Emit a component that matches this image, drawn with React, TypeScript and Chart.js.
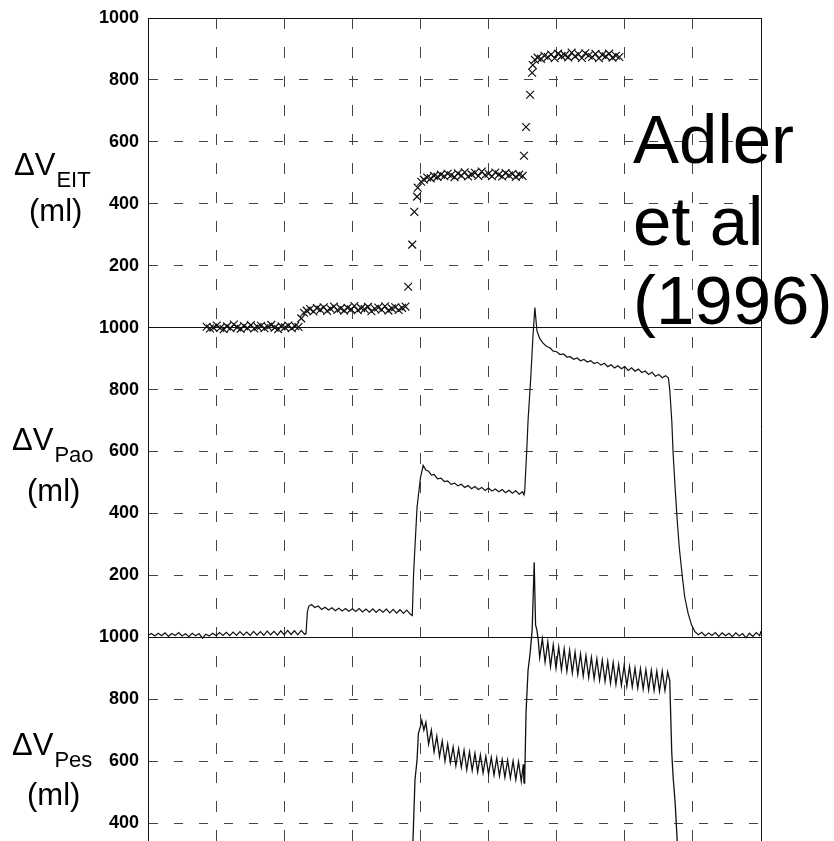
import React, { useEffect, useRef } from "react";
import { Chart, registerables } from "chart.js";

Chart.register(...registerables);

// ---- axis setup (continuous axis: three stacked 0-1000 ml panels) ----
const xGridValues = [0, 1, 2, 3, 4, 5, 6, 7, 8, 9];
const yMin = 342;
const yMax = 3000;
const yTickValues = [400, 600, 800, 1000, 1200, 1400, 1600, 1800, 2000, 2200, 2400, 2600, 2800, 3000];
const yTickLabels = ["400", "600", "800", "1000", "200", "400", "600", "800", "1000", "200", "400", "600", "800", "1000"];
const panelBoundaries = [1000, 2000, 3000];

// panel offsets on the continuous axis
const offsetEIT = 2000;
const offsetPao = 1000;
const offsetPes = 0;

const panelSubscripts = ["EIT", "Pao", "Pes"];
const citationLines = ["Adler", "et al", "(1996)"];

// ---- ΔV EIT (ml) : markers ----
const eitX = [
  0.86, 0.91, 0.96, 1.01, 1.06, 1.11, 1.16, 1.21, 1.26, 1.31, 1.36, 1.41, 1.46, 1.51, 1.56, 1.61, 1.66, 1.71, 1.76, 1.81,
  1.86, 1.91, 1.96, 2.01, 2.06, 2.11, 2.16, 2.21,
  2.25, 2.29,
  2.33, 2.38, 2.43, 2.48, 2.53, 2.58, 2.63, 2.68, 2.73, 2.78, 2.83, 2.88, 2.93, 2.98, 3.03, 3.08, 3.13, 3.18, 3.23, 3.28,
  3.33, 3.38, 3.43, 3.48, 3.53, 3.58, 3.63, 3.68, 3.73, 3.78,
  3.82, 3.88, 3.91, 3.95, 3.96, 4.01,
  4.05, 4.10, 4.15, 4.20, 4.25, 4.30, 4.35, 4.40, 4.45, 4.50, 4.55, 4.60, 4.65, 4.70, 4.75, 4.80, 4.85, 4.90, 4.95, 5.00,
  5.05, 5.10, 5.15, 5.20, 5.25, 5.30, 5.35, 5.40, 5.45, 5.50,
  5.52, 5.55, 5.61, 5.64, 5.65, 5.68,
  5.72, 5.77, 5.82, 5.87, 5.92, 5.97, 6.02, 6.07, 6.12, 6.17, 6.22, 6.27, 6.32, 6.37, 6.42, 6.47, 6.52, 6.57, 6.62, 6.67,
  6.72, 6.77, 6.82, 6.87, 6.92,
];
const eitY = [
  3, -3, 0, 7, -1, -5, 4, -2, 10, 1, -4, 5, -1, 8, -3, 2, 6, -2, 3, 9,
  0, -5, 4, 1, 7, -2, 5, 2,
  30, 48,
  55, 60, 52, 63, 58, 66, 54, 61, 68, 57, 62, 55, 64, 59, 70, 56, 63, 60, 67, 53,
  61, 65, 58, 69, 55, 62, 66, 57, 64, 68,
  132, 268, 374, 423, 452, 471,
  478, 485, 482, 490, 487, 494, 489, 497, 492, 486, 498, 491, 502, 488, 495, 500, 490, 504, 493, 497,
  489, 501, 494, 488, 499, 492, 496, 487, 494, 490,
  555, 648, 752, 823, 848, 865,
  872, 868, 878, 874, 882, 870, 885, 877, 880, 873, 888, 876, 883, 871, 886, 879, 874, 884, 870, 881,
  876, 885, 872, 878, 874,
];

// ---- ΔV Pao (ml) : trace [time, volume] ----
const paoTrace: [number, number][] = [
  [0, 6], [0.05, 12], [0.1, 4], [0.15, 13], [0.2, 5], [0.25, 14], [0.3, 3], [0.35, 12], [0.4, 6], [0.45, 15],
  [0.5, 4], [0.55, 11], [0.6, 2], [0.65, 13], [0.7, 5], [0.75, 12], [0.8, -3], [0.85, 10], [0.9, 4], [0.95, 13],
  [1, 5], [1.05, 15], [1.1, 6], [1.15, 16], [1.2, 5], [1.25, 17], [1.3, 6], [1.35, 18], [1.4, 7], [1.45, 17],
  [1.5, 6], [1.55, 19], [1.6, 7], [1.65, 18], [1.7, 6], [1.75, 20], [1.8, 8], [1.85, 19], [1.9, 7], [1.95, 21],
  [2, 8], [2.05, 22], [2.1, 9], [2.15, 21], [2.2, 8], [2.25, 22], [2.3, 9],
  [2.32, 12], [2.34, 82], [2.36, 100], [2.4, 106],
  [2.45, 96], [2.5, 101], [2.55, 90], [2.6, 97], [2.65, 88], [2.7, 95], [2.75, 86], [2.8, 94], [2.85, 85], [2.9, 93],
  [2.95, 84], [3, 92], [3.05, 83], [3.1, 93], [3.15, 82], [3.2, 91], [3.25, 81], [3.3, 92], [3.35, 80], [3.4, 90],
  [3.45, 81], [3.5, 91], [3.55, 79], [3.6, 90], [3.65, 78], [3.7, 89], [3.75, 77], [3.8, 88], [3.85, 75],
  [3.88, 70], [3.9, 210], [3.95, 420], [4.0, 515], [4.04, 555],
  [4.08, 540], [4.12, 536], [4.16, 524], [4.2, 526], [4.25, 512], [4.3, 514], [4.35, 503], [4.4, 505], [4.45, 494], [4.5, 498],
  [4.55, 489], [4.6, 494], [4.65, 484], [4.7, 490], [4.75, 480], [4.8, 487], [4.85, 477], [4.9, 484], [4.95, 474], [5, 482],
  [5.05, 472], [5.1, 479], [5.15, 470], [5.2, 477], [5.25, 467], [5.3, 475], [5.35, 465], [5.4, 473], [5.45, 462], [5.5, 470],
  [5.52, 460],
  [5.53, 470], [5.56, 600], [5.58, 700], [5.62, 840], [5.65, 965], [5.68, 1065],
  [5.71, 990], [5.75, 965], [5.8, 950], [5.85, 940], [5.9, 935], [5.95, 924], [6, 922], [6.05, 913], [6.1, 915], [6.15, 905],
  [6.2, 906], [6.25, 898], [6.3, 902], [6.35, 893], [6.4, 897], [6.45, 889], [6.5, 893], [6.55, 884], [6.6, 888], [6.65, 879],
  [6.7, 885], [6.75, 874], [6.8, 880], [6.85, 870], [6.9, 877], [6.95, 867], [7, 874], [7.05, 862], [7.1, 870], [7.15, 859],
  [7.2, 866], [7.25, 855], [7.3, 860], [7.35, 849], [7.4, 856], [7.45, 843], [7.5, 849], [7.55, 838], [7.6, 845], [7.64, 838],
  [7.66, 800], [7.69, 700], [7.71, 593], [7.74, 480], [7.77, 377], [7.8, 290], [7.84, 206], [7.88, 130], [7.93, 77], [7.98, 40],
  [8.03, 18],
  [8.08, 8], [8.13, 16], [8.18, 4], [8.23, 14], [8.28, 6], [8.33, 15], [8.38, 3], [8.43, 14], [8.48, 5], [8.53, 13],
  [8.58, 2], [8.63, 14], [8.68, 4], [8.73, 12], [8.78, -2], [8.83, 13], [8.88, 3], [8.93, 15], [8.98, 5], [9, 20],
];

// ---- ΔV Pes (ml) : trace [time, volume] ----
const pesTrace: [number, number][] = [
  [3.86, 250], [3.89, 342], [3.92, 540], [3.95, 603], [3.97, 690], [4.0, 712], [4.02, 732],
  [4.05, 700], [4.08, 725], [4.12, 655], [4.16, 700], [4.2, 630], [4.24, 680], [4.28, 615], [4.32, 665], [4.36, 600],
  [4.4, 655], [4.44, 595], [4.48, 645], [4.52, 585], [4.56, 640], [4.6, 580], [4.64, 635], [4.68, 572], [4.72, 630],
  [4.76, 570], [4.8, 625], [4.84, 565], [4.88, 620], [4.92, 562], [4.96, 615], [5, 558], [5.04, 612], [5.08, 555],
  [5.12, 610], [5.16, 552], [5.2, 605], [5.24, 548], [5.28, 603], [5.32, 545], [5.36, 600], [5.4, 540], [5.44, 598],
  [5.48, 535], [5.51, 590], [5.52, 530],
  [5.53, 529], [5.55, 755], [5.58, 894], [5.61, 948], [5.64, 1023], [5.67, 1242], [5.69, 1040], [5.71, 1023],
  [5.73, 990], [5.75, 935],
  [5.79, 995], [5.83, 920], [5.87, 985], [5.91, 905], [5.95, 975], [5.99, 900], [6.03, 968], [6.07, 895], [6.11, 962],
  [6.15, 890], [6.19, 958], [6.23, 885], [6.27, 952], [6.31, 880], [6.35, 946], [6.39, 875], [6.43, 940], [6.47, 870],
  [6.51, 935], [6.55, 866], [6.59, 930], [6.63, 862], [6.67, 926], [6.71, 858], [6.75, 922], [6.79, 852], [6.83, 918],
  [6.87, 848], [6.91, 912], [6.95, 845], [6.99, 908], [7.03, 842], [7.07, 905], [7.11, 840], [7.15, 900], [7.19, 836],
  [7.23, 898], [7.27, 833], [7.31, 895], [7.35, 830], [7.39, 893], [7.43, 828], [7.47, 890], [7.51, 826], [7.55, 890],
  [7.59, 828], [7.63, 888],
  [7.66, 860], [7.69, 626], [7.71, 548], [7.74, 464], [7.77, 342], [7.8, 250],
];

const FONT = "'Liberation Sans', Arial, Helvetica, sans-serif";

const isBoundary = (v: number) => panelBoundaries.includes(v);

const annotationPlugin = {
  id: "panelAnnotations",
  afterDraw(chart: any) {
    const ctx: CanvasRenderingContext2D = chart.ctx;
    ctx.save();
    ctx.fillStyle = "#000";
    ctx.textAlign = "left";
    ctx.textBaseline = "alphabetic";
    // axis titles for each panel: ΔV_sub (ml)
    const titlePos = [
      { dx: 14, dy: 175, subDy: 187, mx: 29, my: 221 },
      { dx: 12, dy: 450, subDy: 462, mx: 27, my: 501 },
      { dx: 12, dy: 755, subDy: 767, mx: 27, my: 805 },
    ];
    panelSubscripts.forEach((sub, i) => {
      const p = titlePos[i];
      ctx.font = `31px ${FONT}`;
      ctx.fillText("ΔV", p.dx, p.dy);
      const w = ctx.measureText("ΔV").width;
      ctx.fillText("(ml)", p.mx, p.my);
      ctx.font = `22px ${FONT}`;
      ctx.fillText(sub, p.dx + w + 1, p.subDy);
    });
    // citation
    ctx.font = `69px ${FONT}`;
    const baselines = [163, 245, 324];
    citationLines.forEach((line, i) => ctx.fillText(line, 633, baselines[i]));
    ctx.restore();
  },
};

export default function App() {
  const canvasRef = useRef<HTMLCanvasElement>(null);

  useEffect(() => {
    if (!canvasRef.current) return;
    const eitData = eitX.map((x, i) => ({ x, y: eitY[i] + offsetEIT }));
    const paoData = paoTrace.map(([x, y]) => ({ x, y: y + offsetPao }));
    const pesData = pesTrace.map(([x, y]) => ({ x, y: y + offsetPes }));

    const chart = new Chart(canvasRef.current, {
      type: "scatter",
      data: {
        datasets: [
          {
            label: "ΔV EIT",
            data: eitData,
            showLine: false,
            pointStyle: "crossRot",
            pointRadius: 5.5,
            pointBorderWidth: 1.2,
            borderColor: "#111",
            backgroundColor: "#111",
          },
          {
            label: "ΔV Pao",
            data: paoData,
            showLine: true,
            pointRadius: 0,
            borderWidth: 1.2,
            borderColor: "#111",
            tension: 0,
          },
          {
            label: "ΔV Pes",
            data: pesData,
            showLine: true,
            pointRadius: 0,
            borderWidth: 1.3,
            borderColor: "#111",
            tension: 0,
          },
        ],
      },
      options: {
        responsive: false,
        animation: false,
        devicePixelRatio: 1,
        layout: { autoPadding: false, padding: { left: 0, top: 18, right: 73, bottom: 0 } },
        plugins: { legend: { display: false }, tooltip: { enabled: false }, title: { display: false } },
        scales: {
          x: {
            type: "linear",
            min: 0,
            max: 9,
            afterBuildTicks: (s: any) => {
              s.ticks = xGridValues.map((v) => ({ value: v }));
            },
            afterFit: (s: any) => {
              s.height = 0;
              s.paddingLeft = 0;
              s.paddingRight = 0;
            },
            ticks: { display: false, autoSkip: false },
            grid: {
              drawTicks: false,
              lineWidth: 1,
              color: (c: any) => (c.tick && (c.tick.value === 0 || c.tick.value === 9) ? "#111" : "#444"),
            },
            border: {
              display: false,
              dash: (c: any) => (c.tick && (c.tick.value === 0 || c.tick.value === 9) ? [] : [11, 18]),
            },
          },
          y: {
            type: "linear",
            min: yMin,
            max: yMax,
            afterBuildTicks: (s: any) => {
              s.ticks = yTickValues.map((v) => ({ value: v }));
            },
            afterFit: (s: any) => {
              s.width = 148;
              s.paddingTop = 0;
              s.paddingBottom = 0;
            },
            ticks: {
              autoSkip: false,
              padding: 9,
              color: "#000",
              font: { family: FONT, size: 18, weight: "bold" },
              callback: (_v: any, i: number) => yTickLabels[i],
            },
            grid: {
              drawTicks: false,
              lineWidth: 1,
              color: (c: any) => (c.tick && isBoundary(c.tick.value) ? "#111" : "#444"),
            },
            border: {
              display: true,
              color: "#111",
              width: 1,
              dash: (c: any) => (c.tick && isBoundary(c.tick.value) ? [] : [9, 16]),
            },
          },
        },
      },
      plugins: [annotationPlugin],
    } as any);

    return () => chart.destroy();
  }, []);

  return (
    <div style={{ position: "absolute", left: 0, top: 0, width: 834, height: 841, background: "#fff" }}>
      <canvas ref={canvasRef} width={834} height={841} style={{ display: "block", width: 834, height: 841 }} />
    </div>
  );
}
